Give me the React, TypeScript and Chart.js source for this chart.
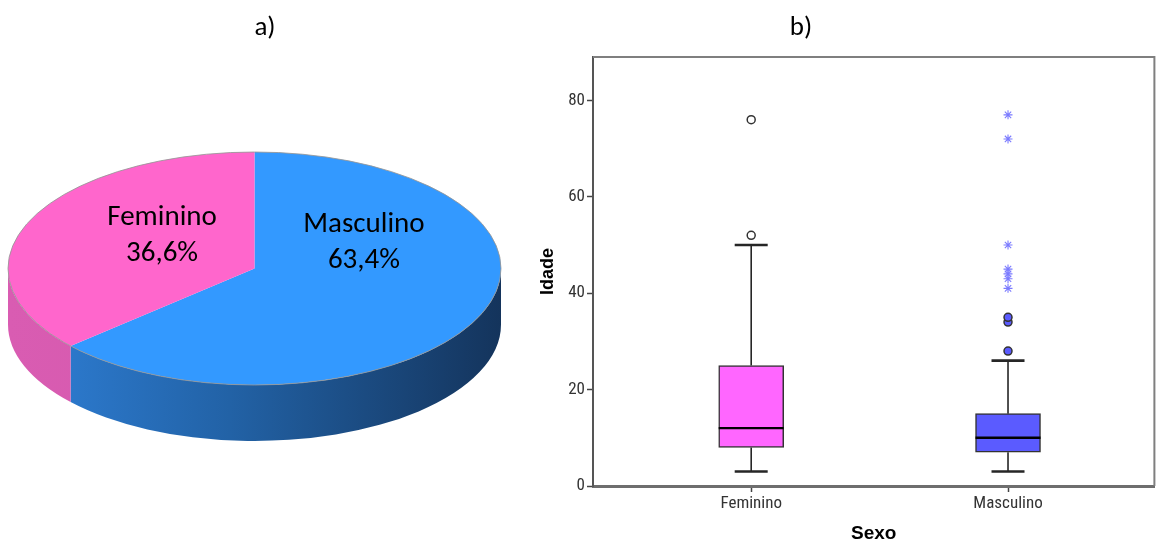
import React, { useEffect, useRef } from 'react';
import { Chart, registerables } from 'chart.js';
Chart.register(...registerables);

// ---------- Data: pie (a) ----------
const PIE_LABELS = ['Masculino', 'Feminino'];
const PIE_VALUES = [63.4, 36.6];
const PIE_TEXT = ['63,4%', '36,6%'];
const PIE_TOP_COLORS = ['#3399FF', '#FF66CC'];

// ---------- Data: boxplot (b) ----------
const BOX_CATEGORIES = ['Feminino', 'Masculino'];
const BOX_MIN = [3, 3];
const BOX_Q1 = [8, 7];
const BOX_MEDIAN = [12, 10];
const BOX_Q3 = [25, 15];
const BOX_MAX = [50, 26];
const FEM_OUTLIERS = [52, 76];
const MASC_OUTLIERS = [28, 34, 35];
const MASC_EXTREMES = [41, 43, 44, 45, 50, 72, 77];
const Y_TICKS = [0, 20, 40, 60, 80];

// ---------- Styles ----------
const TILT = 116.5 / 246.5;
const DEPTH = 56;
const SIDE_STOPS: [number, string][][] = [
  [[0, '#2f80d8'], [0.45, '#2262a6'], [1, '#14345c']],
  [[0, '#d95cb2'], [1, '#cf55a6']],
];
// label anchors as fractions of radius (dx, dy of first baseline)
const LABEL_POS = [
  [0.444, -0.148],
  [-0.375, -0.176],
];
const LABEL_FONT = '29px Carlito, Lato, sans-serif';
const LINE_GAP = 35.5;

const BOX_COLORS = ['#FF66FF', '#5B5BFF'];
const CAP_WIDTH = 33;
const TICK_FONT_FAMILY = "'Liberation Sans Narrow', 'Arial Narrow', 'Roboto Condensed', 'DejaVu Sans Condensed', sans-serif";

const pie3dPlugin = {
  id: 'pie3d',
  beforeDatasetsDraw(chart: any) {
    const ctx = chart.ctx as CanvasRenderingContext2D;
    const meta = chart.getDatasetMeta(0);
    if (!meta.data.length) return;
    const a0 = meta.data[0] as any;
    const cx = a0.x, cy = a0.y, r = a0.outerRadius, ry = r * TILT;
    const TWO_PI = Math.PI * 2;
    meta.data.forEach((arc: any, i: number) => {
      const s = arc.startAngle, e = arc.endAngle;
      for (let k = -1; k <= 1; k++) {
        const lo = Math.max(s, k * TWO_PI);
        const hi = Math.min(e, k * TWO_PI + Math.PI);
        if (hi > lo) {
          ctx.beginPath();
          ctx.ellipse(cx, cy, r, ry, 0, lo, hi);
          ctx.ellipse(cx, cy + DEPTH, r, ry, 0, hi, lo, true);
          ctx.closePath();
          const g = ctx.createLinearGradient(cx - r, 0, cx + r, 0);
          SIDE_STOPS[i].forEach(([o, c]) => g.addColorStop(o, c));
          ctx.fillStyle = g;
          ctx.fill();
        }
      }
    });
    ctx.save();
    ctx.translate(cx, cy);
    ctx.scale(1, TILT);
    ctx.translate(-cx, -cy);
  },
  afterDatasetsDraw(chart: any) {
    const ctx = chart.ctx as CanvasRenderingContext2D;
    ctx.restore();
    const meta = chart.getDatasetMeta(0);
    if (!meta.data.length) return;
    const a0 = meta.data[0] as any;
    const cx = a0.x, cy = a0.y, r = a0.outerRadius, ry = r * TILT;
    ctx.save();
    ctx.beginPath();
    ctx.ellipse(cx, cy, r, ry, 0, 0, Math.PI * 2);
    ctx.strokeStyle = 'rgba(150,150,150,0.85)';
    ctx.lineWidth = 1;
    ctx.stroke();
    ctx.fillStyle = '#000';
    ctx.font = LABEL_FONT;
    ctx.textAlign = 'center';
    ctx.textBaseline = 'alphabetic';
    PIE_LABELS.forEach((lab, i) => {
      const x = cx + LABEL_POS[i][0] * r;
      const y = cy + LABEL_POS[i][1] * r;
      ctx.fillText(lab, x, y);
      ctx.fillText(PIE_TEXT[i], x, y + LINE_GAP);
    });
    ctx.restore();
  },
};

const boxPlugin = {
  id: 'boxWhiskers',
  beforeDatasetsDraw(chart: any) {
    const { ctx, scales } = chart;
    const x = scales.x, y = scales.y;
    ctx.save();
    ctx.strokeStyle = '#262626';
    BOX_CATEGORIES.forEach((_, i) => {
      const px = x.getPixelForValue(i + 1);
      const yMin = y.getPixelForValue(BOX_MIN[i]);
      const yQ1 = y.getPixelForValue(BOX_Q1[i]);
      const yQ3 = y.getPixelForValue(BOX_Q3[i]);
      const yMax = y.getPixelForValue(BOX_MAX[i]);
      ctx.lineWidth = 1.6;
      ctx.beginPath();
      ctx.moveTo(px, yMin); ctx.lineTo(px, yQ1);
      ctx.moveTo(px, yQ3); ctx.lineTo(px, yMax);
      ctx.stroke();
      ctx.lineWidth = 2.6;
      ctx.beginPath();
      ctx.moveTo(px - CAP_WIDTH / 2, yMin); ctx.lineTo(px + CAP_WIDTH / 2, yMin);
      ctx.moveTo(px - CAP_WIDTH / 2, yMax); ctx.lineTo(px + CAP_WIDTH / 2, yMax);
      ctx.stroke();
    });
    ctx.restore();
  },
  afterDatasetsDraw(chart: any) {
    const { ctx, scales } = chart;
    const x = scales.x, y = scales.y;
    const meta = chart.getDatasetMeta(0);
    ctx.save();
    ctx.strokeStyle = '#000';
    ctx.lineWidth = 2.4;
    BOX_CATEGORIES.forEach((_, i) => {
      const bar = meta.data[i] as any;
      const px = x.getPixelForValue(i + 1);
      const half = (bar ? bar.width : 65) / 2;
      const ym = y.getPixelForValue(BOX_MEDIAN[i]);
      ctx.beginPath();
      ctx.moveTo(px - half, ym); ctx.lineTo(px + half, ym);
      ctx.stroke();
    });
    ctx.restore();
  },
  afterDraw(chart: any) {
    const { ctx, chartArea } = chart;
    ctx.save();
    ctx.strokeStyle = '#7f7f7f';
    ctx.lineWidth = 2;
    ctx.beginPath();
    ctx.moveTo(chartArea.left, chartArea.top);
    ctx.lineTo(chartArea.right, chartArea.top);
    ctx.lineTo(chartArea.right, chartArea.bottom);
    ctx.stroke();
    ctx.restore();
  },
};

const titleStyle = (cx: number): React.CSSProperties => ({
  position: 'absolute',
  left: cx - 50,
  top: 10,
  width: 100,
  textAlign: 'center',
  font: '27px Carlito, Lato, sans-serif',
  lineHeight: '32px',
  color: '#000',
});

export default function App() {
  const pieRef = useRef<HTMLCanvasElement>(null);
  const boxRef = useRef<HTMLCanvasElement>(null);

  useEffect(() => {
    const pie = new Chart(pieRef.current!, {
      type: 'pie',
      data: {
        labels: PIE_LABELS,
        datasets: [{
          data: PIE_VALUES,
          backgroundColor: PIE_TOP_COLORS,
          borderWidth: 0,
          clip: false as any,
        }],
      },
      options: {
        responsive: false,
        animation: false,
        devicePixelRatio: 1,
        layout: { padding: { left: 8, right: 19, top: 22, bottom: 28 } },
        plugins: { legend: { display: false }, tooltip: { enabled: false } },
      },
      plugins: [pie3dPlugin],
    });

    const box = new Chart(boxRef.current!, {
      type: 'bar',
      data: {
        datasets: [
          {
            type: 'bar',
            data: BOX_CATEGORIES.map((_, i) => ({ x: i + 1, y: [BOX_Q1[i], BOX_Q3[i]] })) as any,
            backgroundColor: BOX_COLORS,
            borderColor: '#333',
            borderWidth: 1.5,
            borderSkipped: false,
            barThickness: 65,
          } as any,
          {
            type: 'scatter',
            data: FEM_OUTLIERS.map((v) => ({ x: 1, y: v })),
            pointStyle: 'circle',
            pointRadius: 4,
            pointBackgroundColor: '#ffffff',
            pointBorderColor: '#333',
            pointBorderWidth: 1.5,
          } as any,
          {
            type: 'scatter',
            data: MASC_OUTLIERS.map((v) => ({ x: 2, y: v })),
            pointStyle: 'circle',
            pointRadius: 4,
            pointBackgroundColor: '#5B5BFF',
            pointBorderColor: '#333',
            pointBorderWidth: 1.5,
          } as any,
          {
            type: 'scatter',
            data: MASC_EXTREMES.map((v) => ({ x: 2, y: v })),
            pointStyle: 'star',
            pointRadius: 4.5,
            pointBorderColor: '#7b7bff',
            pointBackgroundColor: '#7b7bff',
            pointBorderWidth: 1.1,
          } as any,
        ],
      },
      options: {
        responsive: false,
        animation: false,
        devicePixelRatio: 1,
        layout: { padding: { left: 0, right: 3, top: 57, bottom: 0 } },
        plugins: { legend: { display: false }, tooltip: { enabled: false } },
        scales: {
          x: {
            type: 'linear',
            offset: false,
            min: 0.384,
            max: 2.57,
            afterBuildTicks: (s: any) => { s.ticks = BOX_CATEGORIES.map((_, i) => ({ value: i + 1 })); },
            afterFit: (s: any) => { s.height = 57; },
            ticks: {
              autoSkip: false,
              maxRotation: 0,
              padding: 2,
              color: '#333',
              font: { family: TICK_FONT_FAMILY, size: 17 },
              callback: (_v: any, idx: number) => BOX_CATEGORIES[idx] ?? '',
            },
            grid: { offset: false, drawOnChartArea: false, drawTicks: true, tickLength: 6, color: '#444', tickWidth: 1.5 } as any,
            border: { display: true, color: '#6e6e6e', width: 3 },
            title: {
              display: true,
              text: 'Sexo',
              color: '#000',
              font: { family: "'Liberation Sans', Arial, sans-serif", size: 19, weight: 'bold', lineHeight: 1 },
              padding: { top: 0, bottom: 0 },
            },
          },
          y: {
            type: 'linear',
            min: 0,
            max: 89,
            afterBuildTicks: (s: any) => { s.ticks = Y_TICKS.map((v) => ({ value: v })); },
            afterFit: (s: any) => { s.width = 73; },
            ticks: {
              autoSkip: false,
              padding: 2,
              color: '#333',
              font: { family: TICK_FONT_FAMILY, size: 17 },
            },
            grid: { drawOnChartArea: false, drawTicks: true, tickLength: 6, color: '#444', tickWidth: 1.5 } as any,
            border: { display: true, color: '#555', width: 2 },
            title: {
              display: true,
              text: 'Idade',
              color: '#000',
              font: { family: "'Liberation Sans', Arial, sans-serif", size: 18, weight: 'bold', lineHeight: 1 },
              padding: { top: 19, bottom: 0 },
            },
          },
        },
      } as any,
      plugins: [boxPlugin],
    });

    return () => { pie.destroy(); box.destroy(); };
  }, []);

  return (
    <div style={{ position: 'fixed', left: 0, top: 0, width: 1160, height: 543, background: '#fff', overflow: 'hidden' }}>
      <canvas ref={pieRef} width={520} height={543} style={{ position: 'absolute', left: 0, top: 0, width: 520, height: 543 }} />
      <canvas ref={boxRef} width={640} height={543} style={{ position: 'absolute', left: 520, top: 0, width: 640, height: 543 }} />
      <div style={titleStyle(265)}>a)</div>
      <div style={titleStyle(801)}>b)</div>
    </div>
  );
}
